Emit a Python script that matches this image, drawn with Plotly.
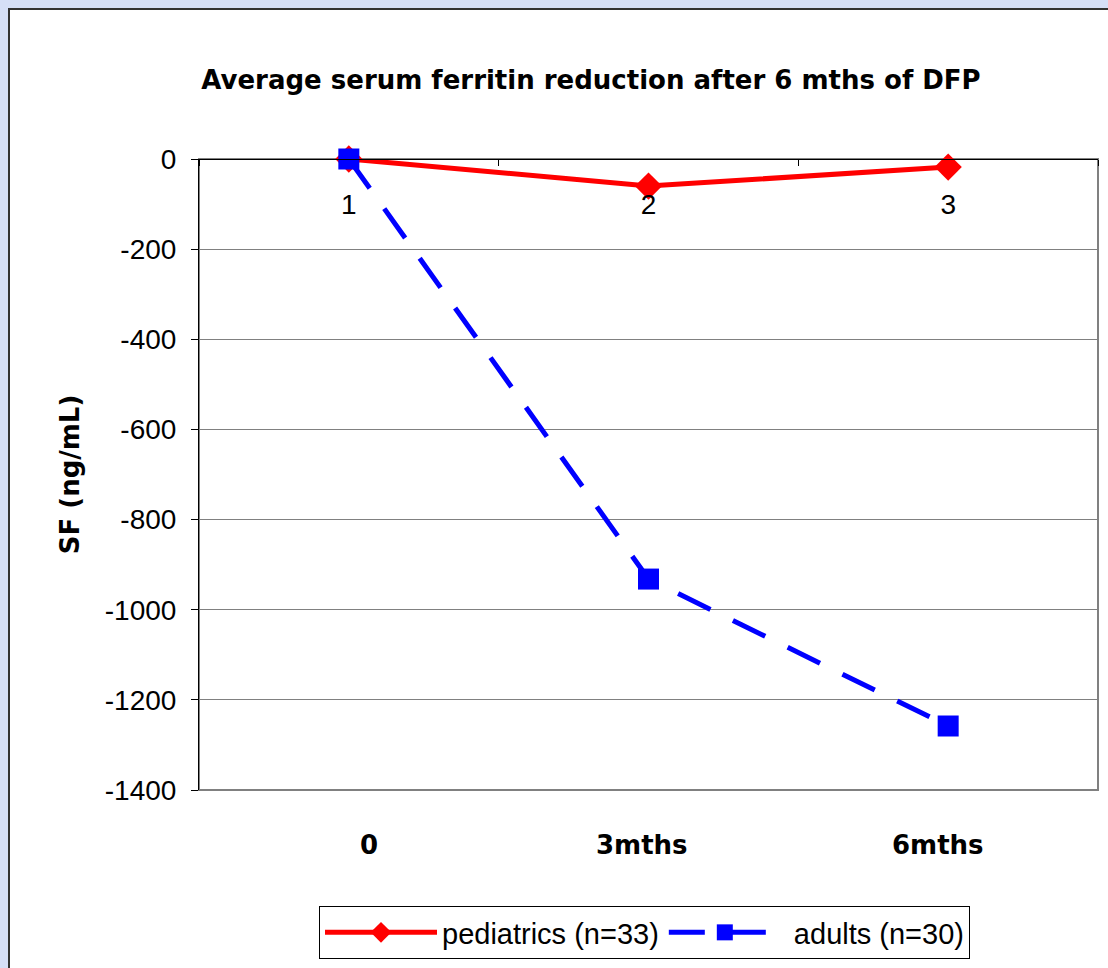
import plotly.graph_objects as go

# ---- data ----
categories = ["0", "3mths", "6mths"]
top_labels = ["1", "2", "3"]
pediatrics = [0, -60, -18]
adults = [0, -932, -1258]
y_ticks = [0, -200, -400, -600, -800, -1000, -1200, -1400]
y_tick_text = [str(v) for v in y_ticks]

W, H = 1108, 968
L, R, T, B = 199, 1098, 159, 790


def px_x(px):
    return (px - L) / (R - L)


def px_y(py):
    return (B - py) / (B - T)


FONT = "Liberation Sans, Arial, sans-serif"
BOLD = "DejaVu Sans, Verdana, sans-serif"

fig = go.Figure()
fig.add_trace(go.Scatter(
    x=categories, y=pediatrics, name="pediatrics (n=33)",
    mode="lines+markers", cliponaxis=False,
    line=dict(color="#FF0000", width=5),
    marker=dict(symbol="diamond", size=21, color="#FF0000"),
))
fig.add_trace(go.Scatter(
    x=categories, y=adults, name=" adults (n=30)",
    mode="lines+markers", cliponaxis=False,
    line=dict(color="#0000FF", width=5, dash="36px,25px"),
    marker=dict(symbol="square", size=21, color="#0000FF"),
))

shapes = [
    # white chart area with dark border
    dict(type="rect", xref="paper", yref="paper",
         x0=px_x(9), x1=px_x(1130), y0=px_y(990), y1=px_y(9),
         fillcolor="white", line=dict(color="#333333", width=2), layer="below"),
    # plot area border
    dict(type="rect", xref="paper", yref="paper",
         x0=0, x1=1, y0=0, y1=1,
         fillcolor="rgba(0,0,0,0)", line=dict(color="#808080", width=2), layer="below"),
]

label_shift = [20, -7, -10]
annotations = [
    dict(x=c, xref="x", y=px_y(845), yref="paper", text="<b>" + c + "</b>",
         showarrow=False, xanchor="center", yanchor="middle", xshift=s,
         font=dict(family=BOLD, size=26, color="black"))
    for c, s in zip(categories, label_shift)
]

fig.update_layout(
    width=W, height=H,
    margin=dict(l=L, r=W - R, t=T, b=H - B, autoexpand=False),
    paper_bgcolor="#D6DFF7",
    plot_bgcolor="rgba(0,0,0,0)",
    font=dict(family=FONT, size=28, color="black"),
    title=dict(text="<b>Average serum ferritin reduction after 6 mths of DFP</b>",
               x=591 / W, xanchor="center", y=1 - 80 / H, yanchor="middle",
               font=dict(family=BOLD, size=26, color="black")),
    shapes=shapes,
    annotations=annotations,
    showlegend=True,
    legend=dict(orientation="h", x=px_x(644.5), xanchor="center",
                y=px_y(906), yanchor="top",
                bgcolor="white", bordercolor="black", borderwidth=1,
                font=dict(family=FONT, size=29, color="black"),
                itemwidth=112),
    xaxis=dict(type="category", categoryorder="array", categoryarray=categories,
               range=[-0.5, 2.5], side="bottom", anchor="free", position=1,
               showline=True, linecolor="black", linewidth=1,
               tickmode="array", tickvals=categories, ticktext=top_labels,
               tickson="boundaries", ticks="outside", ticklen=6, tickcolor="black",
               ticklabelstandoff=20,
               showgrid=False, zeroline=False,
               tickfont=dict(family=FONT, size=28, color="black")),
    yaxis=dict(range=[-1400, 0], tickmode="array", tickvals=y_ticks,
               ticktext=y_tick_text,
               showline=True, linecolor="black", linewidth=1,
               ticks="outside", ticklen=7, tickcolor="black",
               ticklabelstandoff=9,
               gridcolor="#808080", gridwidth=1, zeroline=False,
               tickfont=dict(family=FONT, size=28, color="black"),
               title=dict(text="<b>SF (ng/mL)</b>", standoff=17,
                          font=dict(family=BOLD, size=26, color="black"))),
)

fig.write_html("out.html")
